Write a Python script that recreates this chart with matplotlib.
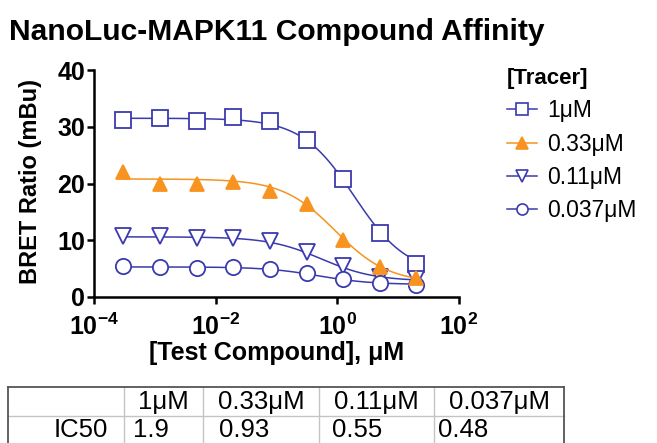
import numpy as np
import matplotlib
matplotlib.use("Agg")
import matplotlib.pyplot as plt
from matplotlib.lines import Line2D

plt.rcParams['font.family'] = ['Liberation Sans', 'DejaVu Sans']
plt.rcParams['mathtext.fontset'] = 'custom'
plt.rcParams['mathtext.rm'] = 'Liberation Sans'
plt.rcParams['mathtext.bf'] = 'Liberation Sans:bold'

# ---- data ----
conc = [0.000305, 0.00122, 0.00488, 0.0195, 0.078, 0.3125, 1.25, 5.0, 20.0]  # uM
tracer_labels = ["1\u03bcM", "0.33\u03bcM", "0.11\u03bcM", "0.037\u03bcM"]
bret_1 = [31.2, 31.5, 31.1, 31.7, 31.1, 27.7, 20.8, 11.3, 5.9]
bret_033 = [22.0, 19.9, 19.9, 20.2, 18.6, 16.4, 10.1, 5.3, 3.3]
bret_011 = [10.7, 10.7, 10.4, 10.4, 9.8, 7.9, 5.4, 3.6, 3.2]
bret_0037 = [5.5, 5.3, 5.1, 5.3, 4.9, 4.2, 3.2, 2.5, 2.2]
# four-parameter logistic fit parameters (top, bottom, IC50, hill)
fit_top = [31.5, 20.8, 10.6, 5.3]
fit_bottom = [4.0, 2.5, 2.8, 2.2]
ic50 = [1.9, 0.93, 0.55, 0.48]
fit_hill = [1.0, 1.0, 1.0, 1.0]
table_cols = ["1\u03bcM", "0.33\u03bcM", "0.11\u03bcM", "0.037\u03bcM"]
table_row_label = "IC50"
table_vals = ["1.9", "0.93", "0.55", "0.48"]
yticks = [0, 10, 20, 30, 40]
xticks = [1e-4, 1e-2, 1e0, 1e2]
xtick_labels = [r'$\mathbf{10^{-4}}$', r'$\mathbf{10^{-2}}$', r'$\mathbf{10^{0}}$', r'$\mathbf{10^{2}}$']

series = [bret_1, bret_033, bret_011, bret_0037]
blue = '#3a3aae'
orange = '#f7931e'
colors = [blue, orange, blue, blue]
markers = ['s', '^', 'v', 'o']
faces = ['white', orange, 'white', 'white']

W, H = 657, 443
fig = plt.figure(figsize=(W / 100, H / 100), dpi=100)
ax = fig.add_axes([94 / W, 1 - 297 / H, (459 - 94) / W, (297 - 70) / H])

xs = np.logspace(np.log10(conc[0]), np.log10(conc[-1]), 300)
handles = []
for i, ys in enumerate(series):
    z = 5 if i == 1 else 3
    fit = fit_bottom[i] + (fit_top[i] - fit_bottom[i]) / (1 + (xs / ic50[i]) ** fit_hill[i])
    ax.plot(xs, fit, color=colors[i], lw=1.1, zorder=z, clip_on=False)
    ax.plot(conc, ys, linestyle='none', marker=markers[i], ms=11 if markers[i] in 'sov' else 10.5,
            mfc=faces[i], mec=colors[i], mew=1.3, zorder=z + 1, clip_on=False)
    handles.append(Line2D([], [], color=colors[i], lw=1.1, marker=markers[i], ms=8,
                          mfc=faces[i], mec=colors[i], mew=1.2))

ax.set_xscale('log')
ax.set_xlim(1e-4, 1e2)
ax.set_ylim(0, 40)
ax.set_xticks(xticks)
ax.set_xticklabels(xtick_labels)
ax.xaxis.set_minor_locator(matplotlib.ticker.NullLocator())
ax.set_yticks(yticks)
for sp in ['top', 'right']:
    ax.spines[sp].set_visible(False)
for sp in ['left', 'bottom']:
    ax.spines[sp].set_linewidth(1.8)
ax.tick_params(axis='both', direction='out', length=5, width=1.8, labelsize=18)
ax.tick_params(axis='y', pad=1.5)
ax.tick_params(axis='x', pad=7)
for lab in ax.get_yticklabels():
    lab.set_fontweight('bold')

ax.set_ylabel('BRET Ratio (mBu)', fontsize=17, fontweight='bold')
ax.yaxis.set_label_coords(-0.173, 0.509)
ax.yaxis.label.set_va('center')
ax.set_xlabel('[Test Compound], \u03bcM', fontsize=18, fontweight='bold')
ax.xaxis.set_label_coords(0.5, -0.245)
ax.xaxis.label.set_va('center')

fig.text(9 / W, 1 - 40 / H, 'NanoLuc-MAPK11 Compound Affinity', fontsize=21.6,
         fontweight='bold', ha='left', va='baseline')

leg = ax.legend(handles, tracer_labels, loc='upper left', bbox_to_anchor=(507 / W, 1 - 68 / H),
                bbox_transform=fig.transFigure, frameon=False, fontsize=16.5,
                title='[Tracer]', title_fontproperties={'weight': 'bold', 'size': 16},
                alignment='left', handlelength=1.3, handletextpad=0.45, labelspacing=0.45,
                borderpad=0, borderaxespad=0)

# ---- table ----
col_edges = [8, 124, 203, 319, 434, 564]
row_edges = [387, 416, 446]
def fx(px):
    return px / W
def fy(py):
    return 1 - py / H
light = '#c4c4c4'
dark = '#555555'
# inner lines
fig.add_artist(Line2D([fx(col_edges[0]), fx(col_edges[-1])], [fy(row_edges[1])] * 2, color=light, lw=1.0))
for cx in col_edges[1:-1]:
    fig.add_artist(Line2D([fx(cx)] * 2, [fy(row_edges[0]), fy(row_edges[-1])], color=light, lw=1.0))
# outer border
fig.add_artist(Line2D([fx(col_edges[0]), fx(col_edges[-1])], [fy(row_edges[0])] * 2, color=dark, lw=1.3))
fig.add_artist(Line2D([fx(col_edges[0])] * 2, [fy(row_edges[0]), fy(row_edges[-1])], color=dark, lw=1.3))
fig.add_artist(Line2D([fx(col_edges[-1])] * 2, [fy(row_edges[0]), fy(row_edges[-1])], color=dark, lw=1.3))

hdr_y = fy((row_edges[0] + row_edges[1]) / 2 + 1)
val_y = fy((row_edges[1] + row_edges[2]) / 2 - 1)
val_x = [133, 219, 332, 438]
for j, c in enumerate(table_cols):
    cx = (col_edges[j + 1] + col_edges[j + 2]) / 2
    fig.text(fx(cx), hdr_y, c, fontsize=18.5, ha='center', va='center')
    fig.text(fx(val_x[j]), val_y, table_vals[j], fontsize=18.5, ha='left', va='center')
fig.text(fx(108), val_y, table_row_label, fontsize=18.5, ha='right', va='center')

fig.savefig('out.png', dpi=100)
